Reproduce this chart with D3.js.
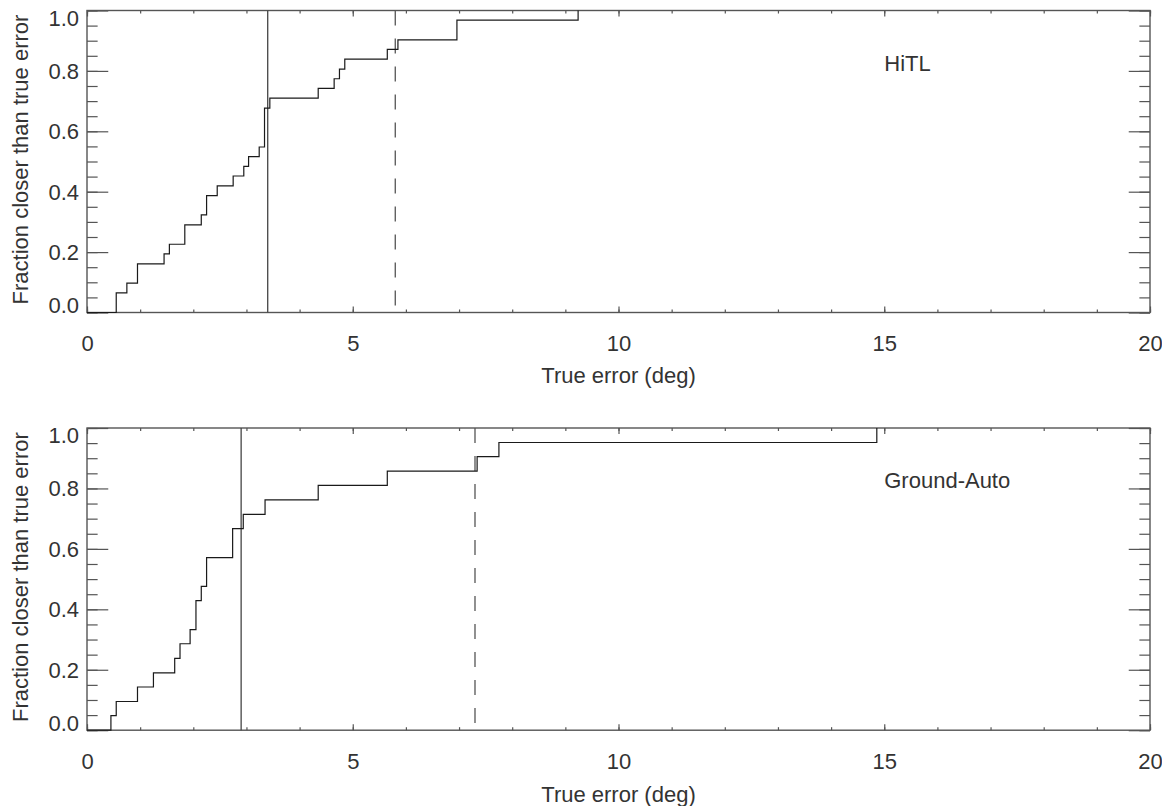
<!DOCTYPE html>
<html>
<head>
<meta charset="utf-8">
<script src="https://cdn.jsdelivr.net/npm/d3@7"></script>
<style>
  html, body { margin: 0; padding: 0; background: #fff; }
  svg { display: block; }
  text { font-family: "Liberation Sans", Arial, Helvetica, sans-serif; fill: #333; }
</style>
</head>
<body>
<svg id="chart" width="1162" height="806"></svg>
<script>
// Cumulative distributions of true pointing error for two solution methods.
const xTicks = [0, 5, 10, 15, 20];
const xMinorTicks = d3.range(0, 21, 1);
const yTicks = [0, 0.2, 0.4, 0.6, 0.8, 1.0];
const yMinorTicks = d3.range(0, 1.0001, 0.05);

// HiTL: error at each step (deg) and cumulative fraction after the step
const hitlError = [0.55, 0.75, 0.95, 1.45, 1.55, 1.84, 2.15, 2.25, 2.45, 2.75, 2.95, 3.04,
                   3.24, 3.34, 3.44, 4.35, 4.65, 4.75, 4.85, 5.65, 5.85, 6.96, 9.24];
const hitlFraction = [0.065, 0.097, 0.161, 0.194, 0.226, 0.290, 0.323, 0.387, 0.419, 0.452, 0.484, 0.516,
                      0.548, 0.677, 0.710, 0.742, 0.774, 0.806, 0.839, 0.871, 0.903, 0.968, 1.000];
const hitlSolid = 3.40;
const hitlDashed = 5.80;

// Ground-Auto
const groundError = [0.45, 0.55, 0.95, 1.25, 1.65, 1.75, 1.94, 2.05, 2.15, 2.25, 2.74, 2.94,
                     3.35, 4.35, 5.65, 7.34, 7.75, 14.86];
const groundFraction = [0.048, 0.095, 0.143, 0.190, 0.238, 0.286, 0.333, 0.429, 0.476, 0.571, 0.667, 0.714,
                        0.762, 0.810, 0.857, 0.905, 0.952, 1.000];
const groundSolid = 2.90;
const groundDashed = 7.30;

const panelLabels = ["HiTL", "Ground-Auto"];
const xTitle = "True error (deg)";
const yTitle = "Fraction closer than true error";

const svg = d3.select("#chart");
const left = 87, right = 1150;
const panels = [
  { top: 10.5, bottom: 312.5, errors: hitlError, fractions: hitlFraction,
    solid: hitlSolid, dashed: hitlDashed, label: panelLabels[0], titleY: 383 },
  { top: 428, bottom: 730.2, errors: groundError, fractions: groundFraction,
    solid: groundSolid, dashed: groundDashed, label: panelLabels[1], titleY: 802 }
];

const axisColor = "#555";
const fontSize = 22;

panels.forEach(p => {
  const x = d3.scaleLinear().domain([0, 20]).range([left, right]);
  const y = d3.scaleLinear().domain([0, 1]).range([p.bottom, p.top]);
  const g = svg.append("g");
  const h = p.bottom - p.top;
  const w = right - left;
  const xMajLen = 0.02 * h, xMinLen = 0.01 * h;
  const yMajLen = 0.02 * w, yMinLen = 0.01 * w;

  const styleAxis = sel => {
    sel.select(".domain").remove();
    sel.selectAll(".tick line").attr("stroke", axisColor).attr("stroke-width", 1.2);
  };

  // x ticks, bottom and top, pointing inward
  g.append("g").attr("transform", `translate(0,${p.bottom})`)
    .call(d3.axisBottom(x).tickValues(xMinorTicks).tickSizeInner(-xMinLen).tickSizeOuter(0).tickFormat(""))
    .call(styleAxis);
  g.append("g").attr("transform", `translate(0,${p.bottom})`)
    .call(d3.axisBottom(x).tickValues(xTicks).tickSizeInner(-xMajLen).tickSizeOuter(0)
      .tickPadding(23).tickFormat(d3.format("d")))
    .call(styleAxis)
    .call(s => s.selectAll("text").style("font-size", fontSize + "px")
      .style("font-family", '"Liberation Sans", Arial, Helvetica, sans-serif').attr("fill", "#333"));
  g.append("g").attr("transform", `translate(0,${p.top})`)
    .call(d3.axisTop(x).tickValues(xMinorTicks).tickSizeInner(-xMinLen).tickSizeOuter(0).tickFormat(""))
    .call(styleAxis);
  g.append("g").attr("transform", `translate(0,${p.top})`)
    .call(d3.axisTop(x).tickValues(xTicks).tickSizeInner(-xMajLen).tickSizeOuter(0).tickFormat(""))
    .call(styleAxis);

  // y ticks, left and right, pointing inward
  g.append("g").attr("transform", `translate(${left},0)`)
    .call(d3.axisLeft(y).tickValues(yMinorTicks).tickSizeInner(-yMinLen).tickSizeOuter(0).tickFormat(""))
    .call(styleAxis);
  g.append("g").attr("transform", `translate(${left},0)`)
    .call(d3.axisLeft(y).tickValues(yTicks).tickSizeInner(-yMajLen).tickSizeOuter(0).tickFormat(""))
    .call(styleAxis);
  g.append("g").attr("transform", `translate(${right},0)`)
    .call(d3.axisRight(y).tickValues(yMinorTicks).tickSizeInner(-yMinLen).tickSizeOuter(0).tickFormat(""))
    .call(styleAxis);
  g.append("g").attr("transform", `translate(${right},0)`)
    .call(d3.axisRight(y).tickValues(yTicks).tickSizeInner(-yMajLen).tickSizeOuter(0).tickFormat(""))
    .call(styleAxis);

  // y tick labels; end labels are kept inside the box height
  g.selectAll(".ylab").data(yTicks).enter().append("text")
    .attr("x", left - 8)
    .attr("y", d => Math.min(Math.max(y(d), p.top + 7.5), p.bottom - 7))
    .attr("dy", "0.36em")
    .attr("text-anchor", "end")
    .style("font-size", fontSize + "px")
    .text(d3.format(".1f"));

  // frame
  g.append("rect").attr("x", left).attr("y", p.top).attr("width", w).attr("height", h)
    .attr("fill", "none").attr("stroke", axisColor).attr("stroke-width", 1.4);

  // reference lines
  g.append("line").attr("x1", x(p.solid)).attr("x2", x(p.solid))
    .attr("y1", y(0)).attr("y2", y(1))
    .attr("stroke", "#444").attr("stroke-width", 1.3);
  g.append("line").attr("x1", x(p.dashed)).attr("x2", x(p.dashed))
    .attr("y1", y(1)).attr("y2", y(0))
    .attr("stroke", "#555").attr("stroke-width", 1.3)
    .attr("stroke-dasharray", "15,13");

  // cumulative step curve
  const pts = [[0, 0]].concat(p.errors.map((e, i) => [e, p.fractions[i]]));
  const line = d3.line().x(d => x(d[0])).y(d => y(d[1])).curve(d3.curveStepAfter);
  g.append("path").attr("d", line(pts))
    .attr("fill", "none").attr("stroke", "#1a1a1a").attr("stroke-width", 1.2);

  // panel label
  g.append("text").attr("x", x(15)).attr("y", y(0.8))
    .style("font-size", fontSize + "px").text(p.label);

  // axis titles
  g.append("text").attr("x", (left + right) / 2).attr("y", p.titleY)
    .attr("text-anchor", "middle").style("font-size", fontSize + "px").text(xTitle);
  g.append("text")
    .attr("transform", `translate(28,${(p.top + p.bottom) / 2 - 2}) rotate(-90)`)
    .attr("text-anchor", "middle").style("font-size", fontSize + "px").text(yTitle);
});
</script>
</body>
</html>
